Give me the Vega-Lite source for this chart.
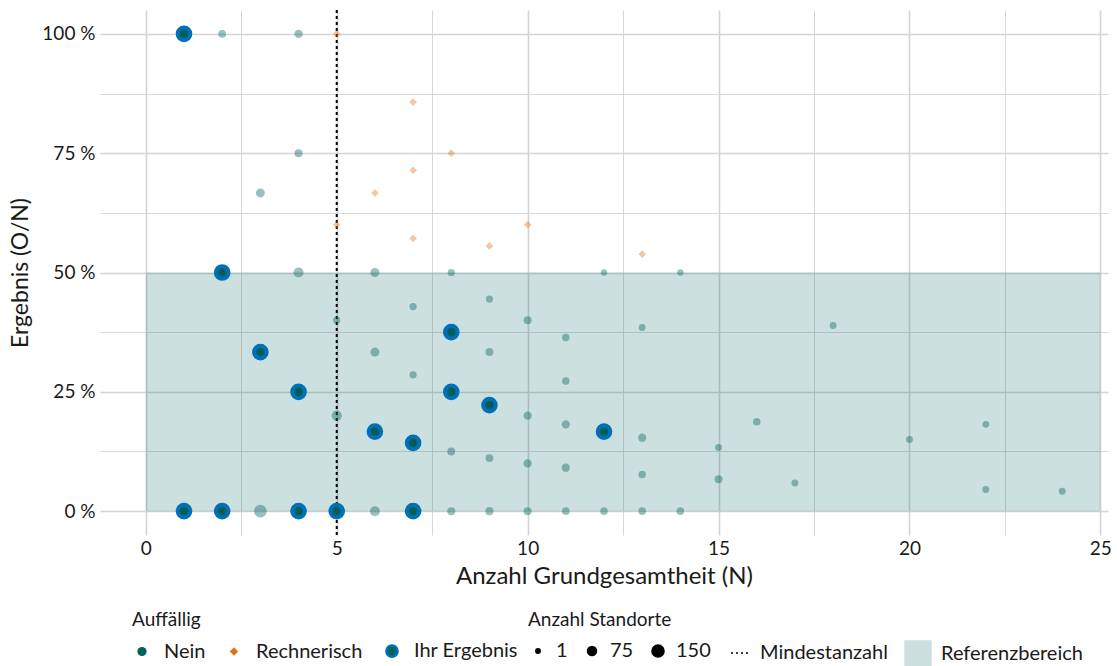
{
  "$schema": "https://vega.github.io/schema/vega-lite/v6.json",
  "width": 1008,
  "height": 525,
  "autosize": "none",
  "padding": {"left": 100, "top": 10, "right": 9, "bottom": 131},
  "background": "white",
  "datasets": {
    "punkte": [
      {"n": 2, "ergebnis": 100, "anzahl": 28, "auffaellig": "Nein"},
      {"n": 4, "ergebnis": 100, "anzahl": 36, "auffaellig": "Nein"},
      {"n": 4, "ergebnis": 75, "anzahl": 30, "auffaellig": "Nein"},
      {"n": 3, "ergebnis": 66.67, "anzahl": 46, "auffaellig": "Nein"},
      {"n": 4, "ergebnis": 50, "anzahl": 68, "auffaellig": "Nein"},
      {"n": 6, "ergebnis": 50, "anzahl": 46, "auffaellig": "Nein"},
      {"n": 8, "ergebnis": 50, "anzahl": 18, "auffaellig": "Nein"},
      {"n": 12, "ergebnis": 50, "anzahl": 6, "auffaellig": "Nein"},
      {"n": 14, "ergebnis": 50, "anzahl": 6, "auffaellig": "Nein"},
      {"n": 9, "ergebnis": 44.44, "anzahl": 18, "auffaellig": "Nein"},
      {"n": 7, "ergebnis": 42.86, "anzahl": 18, "auffaellig": "Nein"},
      {"n": 5, "ergebnis": 40, "anzahl": 18, "auffaellig": "Nein"},
      {"n": 10, "ergebnis": 40, "anzahl": 30, "auffaellig": "Nein"},
      {"n": 11, "ergebnis": 36.36, "anzahl": 22, "auffaellig": "Nein"},
      {"n": 13, "ergebnis": 38.46, "anzahl": 14, "auffaellig": "Nein"},
      {"n": 18, "ergebnis": 38.89, "anzahl": 14, "auffaellig": "Nein"},
      {"n": 6, "ergebnis": 33.33, "anzahl": 46, "auffaellig": "Nein"},
      {"n": 9, "ergebnis": 33.33, "anzahl": 28, "auffaellig": "Nein"},
      {"n": 7, "ergebnis": 28.57, "anzahl": 18, "auffaellig": "Nein"},
      {"n": 11, "ergebnis": 27.27, "anzahl": 22, "auffaellig": "Nein"},
      {"n": 5, "ergebnis": 20, "anzahl": 68, "auffaellig": "Nein"},
      {"n": 10, "ergebnis": 20, "anzahl": 34, "auffaellig": "Nein"},
      {"n": 11, "ergebnis": 18.18, "anzahl": 34, "auffaellig": "Nein"},
      {"n": 13, "ergebnis": 15.38, "anzahl": 34, "auffaellig": "Nein"},
      {"n": 15, "ergebnis": 13.33, "anzahl": 14, "auffaellig": "Nein"},
      {"n": 16, "ergebnis": 18.75, "anzahl": 22, "auffaellig": "Nein"},
      {"n": 20, "ergebnis": 15, "anzahl": 14, "auffaellig": "Nein"},
      {"n": 22, "ergebnis": 18.18, "anzahl": 14, "auffaellig": "Nein"},
      {"n": 8, "ergebnis": 12.5, "anzahl": 28, "auffaellig": "Nein"},
      {"n": 9, "ergebnis": 11.11, "anzahl": 28, "auffaellig": "Nein"},
      {"n": 10, "ergebnis": 10, "anzahl": 34, "auffaellig": "Nein"},
      {"n": 11, "ergebnis": 9.09, "anzahl": 34, "auffaellig": "Nein"},
      {"n": 13, "ergebnis": 7.69, "anzahl": 22, "auffaellig": "Nein"},
      {"n": 15, "ergebnis": 6.67, "anzahl": 30, "auffaellig": "Nein"},
      {"n": 17, "ergebnis": 5.88, "anzahl": 14, "auffaellig": "Nein"},
      {"n": 22, "ergebnis": 4.55, "anzahl": 14, "auffaellig": "Nein"},
      {"n": 24, "ergebnis": 4.17, "anzahl": 14, "auffaellig": "Nein"},
      {"n": 3, "ergebnis": 0, "anzahl": 125, "auffaellig": "Nein"},
      {"n": 6, "ergebnis": 0, "anzahl": 64, "auffaellig": "Nein"},
      {"n": 8, "ergebnis": 0, "anzahl": 30, "auffaellig": "Nein"},
      {"n": 9, "ergebnis": 0, "anzahl": 32, "auffaellig": "Nein"},
      {"n": 10, "ergebnis": 0, "anzahl": 30, "auffaellig": "Nein"},
      {"n": 11, "ergebnis": 0, "anzahl": 24, "auffaellig": "Nein"},
      {"n": 12, "ergebnis": 0, "anzahl": 24, "auffaellig": "Nein"},
      {"n": 13, "ergebnis": 0, "anzahl": 24, "auffaellig": "Nein"},
      {"n": 14, "ergebnis": 0, "anzahl": 24, "auffaellig": "Nein"},
      {"n": 5, "ergebnis": 100, "anzahl": 1, "auffaellig": "Rechnerisch"},
      {"n": 7, "ergebnis": 85.71, "anzahl": 1, "auffaellig": "Rechnerisch"},
      {"n": 8, "ergebnis": 75, "anzahl": 1, "auffaellig": "Rechnerisch"},
      {"n": 7, "ergebnis": 71.43, "anzahl": 1, "auffaellig": "Rechnerisch"},
      {"n": 6, "ergebnis": 66.67, "anzahl": 1, "auffaellig": "Rechnerisch"},
      {"n": 5, "ergebnis": 60, "anzahl": 1, "auffaellig": "Rechnerisch"},
      {"n": 10, "ergebnis": 60, "anzahl": 1, "auffaellig": "Rechnerisch"},
      {"n": 7, "ergebnis": 57.14, "anzahl": 1, "auffaellig": "Rechnerisch"},
      {"n": 9, "ergebnis": 55.56, "anzahl": 1, "auffaellig": "Rechnerisch"},
      {"n": 13, "ergebnis": 53.85, "anzahl": 1, "auffaellig": "Rechnerisch"}
    ],
    "ihr": [
      {"n": 1, "ergebnis": 100},
      {"n": 2, "ergebnis": 50},
      {"n": 3, "ergebnis": 33.33},
      {"n": 4, "ergebnis": 25},
      {"n": 6, "ergebnis": 16.67},
      {"n": 7, "ergebnis": 14.29},
      {"n": 8, "ergebnis": 37.5},
      {"n": 8, "ergebnis": 25},
      {"n": 9, "ergebnis": 22.22},
      {"n": 12, "ergebnis": 16.67},
      {"n": 1, "ergebnis": 0},
      {"n": 2, "ergebnis": 0},
      {"n": 4, "ergebnis": 0},
      {"n": 5, "ergebnis": 0},
      {"n": 7, "ergebnis": 0}
    ],
    "referenz": [
      {"bereich": "Referenzbereich", "n_von": 0, "n_bis": 25, "von": 0, "bis": 50}
    ],
    "mindest": [
      {"label": "Mindestanzahl", "n": 5}
    ]
  },
  "layer": [
    {
      "data": {"name": "referenz"},
      "mark": {"type": "rect", "opacity": 0.2},
      "encoding": {
        "x": {"field": "n_von", "type": "quantitative",
          "scale": {"domain": [-1.2, 25.2], "nice": false, "zero": false},
          "axis": {
            "title": "Anzahl Grundgesamtheit (N)",
            "values": [0, 2.5, 5, 7.5, 10, 12.5, 15, 17.5, 20, 22.5, 25],
            "labelExpr": "datum.value % 5 === 0 ? datum.label : ''",
            "gridWidth": {"condition": {"test": "datum.value % 5 === 0", "value": 1.6}, "value": 0.9},
            "labelPadding": 4,
            "titlePadding": 6,
            "titleFontSize": 24
          }
        },
        "x2": {"field": "n_bis"},
        "y": {"field": "von", "type": "quantitative",
          "scale": {"domain": [-5, 105], "nice": false, "zero": false},
          "axis": {
            "title": "Ergebnis (O/N)",
            "values": [0, 12.5, 25, 37.5, 50, 62.5, 75, 87.5, 100],
            "labelExpr": "datum.value % 25 === 0 ? datum.value + ' %' : ''",
            "gridWidth": {"condition": {"test": "datum.value % 25 === 0", "value": 1.6}, "value": 0.9},
            "labelPadding": 5,
            "titlePadding": 9
          }
        },
        "y2": {"field": "bis"},
        "color": {"field": "bereich", "type": "nominal",
          "scale": {"range": ["#00625E"]},
          "legend": {
            "title": null, "orient": "none", "legendX": 803, "legendY": 629,
            "symbolType": "square", "symbolSize": 760, "labelOffset": 8
          }
        }
      }
    },
    {
      "data": {"name": "mindest"},
      "mark": {"type": "rule", "strokeDash": [3, 3], "strokeWidth": 2},
      "encoding": {
        "x": {"field": "n", "type": "quantitative"},
        "color": {"field": "label", "type": "nominal",
          "scale": {"range": ["#000000"]},
          "legend": {
            "title": null, "orient": "none", "legendX": 630, "legendY": 632,
            "symbolType": "stroke", "symbolSize": 400, "symbolDash": [2, 3], "symbolStrokeWidth": 1.5,
            "labelOffset": 8
          }
        }
      }
    },
    {
      "data": {"name": "punkte"},
      "mark": {"type": "point", "filled": true, "opacity": 0.4},
      "encoding": {
        "x": {"field": "n", "type": "quantitative"},
        "y": {"field": "ergebnis", "type": "quantitative"},
        "color": {"field": "auffaellig", "type": "nominal",
          "scale": {"domain": ["Nein", "Rechnerisch", "Ihr Ergebnis"], "range": ["#00625E", "#E07318", "#00625E"]},
          "legend": {
            "title": "Auffällig", "orient": "none", "legendX": 32, "legendY": 601,
            "direction": "horizontal", "symbolSize": 85, "symbolOpacity": 1,
            "labelOffset": 12, "columnPadding": 18, "titlePadding": 11,
            "encode": {"symbols": {"update": {
              "size": {"signal": "datum.value === 'Ihr Ergebnis' ? 125 : datum.value === 'Rechnerisch' ? 42 : 85"},
              "shape": {"signal": "datum.value === 'Rechnerisch' ? 'M0,-1.3L1.3,0L0,1.3L-1.3,0Z' : 'circle'"},
              "stroke": {"signal": "datum.value === 'Ihr Ergebnis' ? '#0070B8' : 'transparent'"},
              "strokeWidth": {"value": 2.5},
              "opacity": {"value": 1}
            }}}
          }
        },
        "shape": {"field": "auffaellig", "type": "nominal",
          "scale": {"domain": ["Nein", "Rechnerisch", "Ihr Ergebnis"], "range": ["circle", "M0,-1.3L1.3,0L0,1.3L-1.3,0Z", "circle"]},
          "legend": null
        },
        "size": {"field": "anzahl", "type": "quantitative",
          "scale": {"domain": [1, 150], "range": [35, 185], "zero": false},
          "legend": {
            "title": "Anzahl Standorte", "orient": "none", "legendX": 428, "legendY": 601,
            "direction": "horizontal", "values": [1, 75, 150], "symbolType": "circle",
            "symbolFillColor": "#000000", "symbolStrokeColor": "#000000", "symbolStrokeWidth": 0, "symbolOpacity": 1,
            "labelOffset": 8, "columnPadding": 14, "titlePadding": 11
          }
        }
      }
    },
    {
      "data": {"name": "ihr"},
      "mark": {"type": "point", "filled": true, "fill": "#005E5A", "stroke": "#0070B8", "strokeWidth": 4, "size": 160, "opacity": 1},
      "encoding": {
        "x": {"field": "n", "type": "quantitative"},
        "y": {"field": "ergebnis", "type": "quantitative"}
      }
    }
  ],
  "resolve": {"scale": {"color": "independent"}},
  "config": {
    "view": {"stroke": null},
    "font": "Lato",
    "axis": {
      "domain": false,
      "ticks": false,
      "gridColor": "#D4D4D4",
      "labelFont": "Lato",
      "labelFontSize": 19,
      "labelColor": "#1A1A1A",
      "titleFont": "Lato",
      "titleFontSize": 23,
      "titleFontWeight": "normal",
      "titleColor": "#1A1A1A"
    },
    "legend": {
      "padding": 0,
      "labelFont": "Lato",
      "labelFontSize": 20,
      "labelColor": "#1A1A1A",
      "titleFont": "Lato",
      "titleFontSize": 19,
      "titleFontWeight": "normal",
      "titleColor": "#1A1A1A"
    }
  }
}
